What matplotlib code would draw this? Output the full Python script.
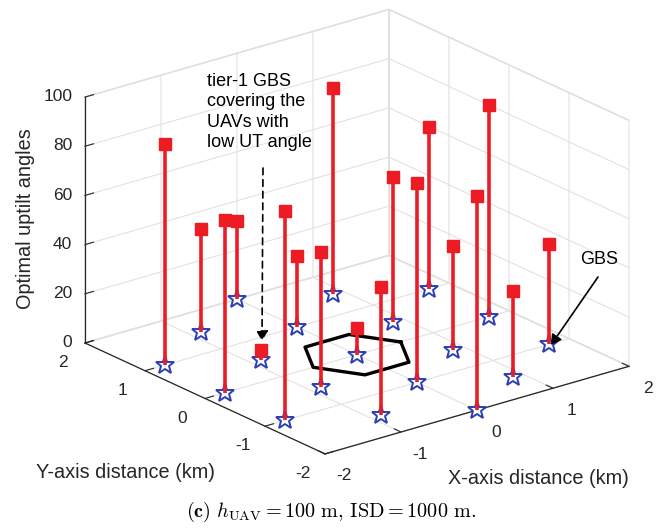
import numpy as np
import matplotlib
matplotlib.use('Agg')
import matplotlib.pyplot as plt
from matplotlib.patches import FancyArrowPatch
from matplotlib.transforms import ScaledTranslation
from mpl_toolkits.mplot3d import proj3d

plt.rcParams['font.family'] = ['Liberation Sans', 'DejaVu Sans']
plt.rcParams['mathtext.fontset'] = 'cm'
plt.rcParams['axes.unicode_minus'] = False

# ---------------- data ----------------
gbs_x = [-1.732, -0.866, -1.732, 0.0, -0.866, -1.732, 0.0, -0.866, 0.866, 0.0,
         -0.866, 0.866, 0.0, 1.732, 0.866, 0.0, 1.732, 0.866, 1.732]
gbs_y = [1.0, 1.5, 0.0, 2.0, 0.5, -1.0, 1.0, -0.5, 1.5, 0.0,
         -1.5, 0.5, -1.0, 1.0, -0.5, -2.0, 0.0, -1.5, -1.0]
uptilt = [90, 42, 70, 32, 4, 85, 29, 55, 84, 11,
          52, 59, 81, 66, 42, 87, 86, 35, 41]
hex_x = [0.577, 0.289, -0.289, -0.577, -0.289, 0.289, 0.577]
hex_y = [0.0, 0.5, 0.5, 0.0, -0.5, -0.5, 0.0]
xticks = [-2, -1, 0, 1, 2]
yticks = [-2, -1, 0, 1, 2]
zticks = [0, 20, 40, 60, 80, 100]

RED = '#ED1C24'
BLUE = '#2B3FB3'
W, H = 670, 528

fig = plt.figure(figsize=(W / 100, H / 100), dpi=100)
S0 = 400
ax = fig.add_axes([0.2, 0.2, S0 / W, S0 / H], projection='3d', computed_zorder=False)
ax.set_proj_type('ortho')
ax.view_init(elev=21.4, azim=-128.3)
ax.set_box_aspect((1, 1, 0.682))
ax.set_xlim(-2, 2)
ax.set_ylim(-2, 2)
ax.set_zlim(0, 100)
ax.set_xticks(xticks)
ax.set_yticks(yticks)
ax.set_zticks(zticks)

for a in (ax.xaxis, ax.yaxis, ax.zaxis):
    a.set_pane_color((1, 1, 1, 1))
    a.pane.set_edgecolor('#d4d4d4')
    a.line.set_color('#262626')
    a.line.set_linewidth(0.9)
    a._axinfo['grid'].update(color='#e2e2e2', linewidth=0.8)
    a._axinfo['tick'].update(inward_factor=0.0, outward_factor=0.35)
    a._axinfo['tick']['color'] = '#262626'
ax.tick_params(labelsize=12.5, colors='#262626')
ax.tick_params(axis='z', pad=0)
ax.tick_params(axis='y', pad=1)
ax.tick_params(axis='x', pad=1)


def shift_labels(axis, dx_px, dy_px, ha=None):
    """Nudge the 3D tick labels by a fixed pixel offset (image coords)."""
    off = ScaledTranslation(dx_px / 100, -dy_px / 100, fig.dpi_scale_trans)
    orig = axis.get_major_ticks

    def patched(numticks=None):
        ticks = orig(numticks)
        for t in ticks:
            t.label1.set_transform(axis.axes.transData + off)
            if ha is not None:
                t.label1.set_horizontalalignment(ha)
        return ticks
    axis.get_major_ticks = patched

shift_labels(ax.zaxis, 7, -7, ha='right')
shift_labels(ax.yaxis, -10, -1.5)
shift_labels(ax.xaxis, 9, 0)

# ---------------- marks ----------------
ax.plot(hex_x, hex_y, np.zeros(len(hex_x)), color='black', lw=2.4)
ax.plot(gbs_x, gbs_y, np.zeros(len(gbs_x)), ls='none', marker='*', ms=14,
        mfc='white', mec=BLUE, mew=1.4)
for xi, yi, zi in zip(gbs_x, gbs_y, uptilt):
    ax.plot([xi, xi], [yi, yi], [0, zi], color=RED, lw=2.6, solid_capstyle='butt')
ax.plot(gbs_x, gbs_y, uptilt, ls='none', marker='s', ms=8, color=RED)


# ---------------- fit axes box to target position ----------------
def corner_px(pts):
    xs, ys, zs = np.array(pts, dtype=float).T
    X, Y, _ = proj3d.proj_transform(xs, ys, zs, ax.get_proj())
    return ax.transData.transform(np.column_stack([X, Y]))

fig.canvas.draw()
c = corner_px([(-2, 2, 0), (2, -2, 0)])
scale = (629 - 85) / (c[1, 0] - c[0, 0])
S1 = S0 * scale
ax.set_position([0.2, 0.2, S1 / W, S1 / H])
fig.canvas.draw()
c = corner_px([(-2, 2, 0)])
dx = 85 - c[0, 0]
dy = (H - 343) - c[0, 1]
ax.set_position([0.2 + dx / W, 0.2 + dy / H, S1 / W, S1 / H])
fig.canvas.draw()

# ---------------- labels & annotations ----------------
def ft(x, y, s, **kw):
    fig.text(x / W, 1 - y / H, s, **kw)

ft(26, 219, 'Optimal uptilt angles', rotation=90, ha='center', va='center',
   fontsize=14.3, color='#262626')
ft(125, 472, 'Y-axis distance (km)', ha='center', va='center', fontsize=14.3, color='#262626')
ft(538, 478, 'X-axis distance (km)', ha='center', va='center', fontsize=14.3, color='#262626')
ft(207, 112, 'tier-1 GBS\ncovering the\nUAVs with\nlow UT angle', ha='left', va='center',
   fontsize=13, linespacing=1.25, color='black')
ft(599, 260, 'GBS', ha='center', va='center', fontsize=13, color='black')

def fpt(x, y):
    return (x / W, 1 - y / H)

arr1 = FancyArrowPatch(fpt(263, 168), fpt(262, 341), transform=fig.transFigure,
                       arrowstyle='-|>,head_length=6,head_width=3.5', color='black',
                       lw=1.2, linestyle=(0, (4, 3)), shrinkA=0, shrinkB=0)
fig.add_artist(arr1)
arr2 = FancyArrowPatch(fpt(598, 277), fpt(551, 345), transform=fig.transFigure,
                       arrowstyle='-|>,head_length=6,head_width=3.5', color='black',
                       lw=1.2, shrinkA=0, shrinkB=0)
fig.add_artist(arr2)

ft(331, 512, r'$\mathbf{(c)}\ h_{\mathrm{UAV}} = 100\ \mathrm{m},\,\mathrm{ISD} = 1000\ \mathrm{m}.$',
   ha='center', va='center', fontsize=14.6, color='black')

fig.savefig('out.png', dpi=100)
